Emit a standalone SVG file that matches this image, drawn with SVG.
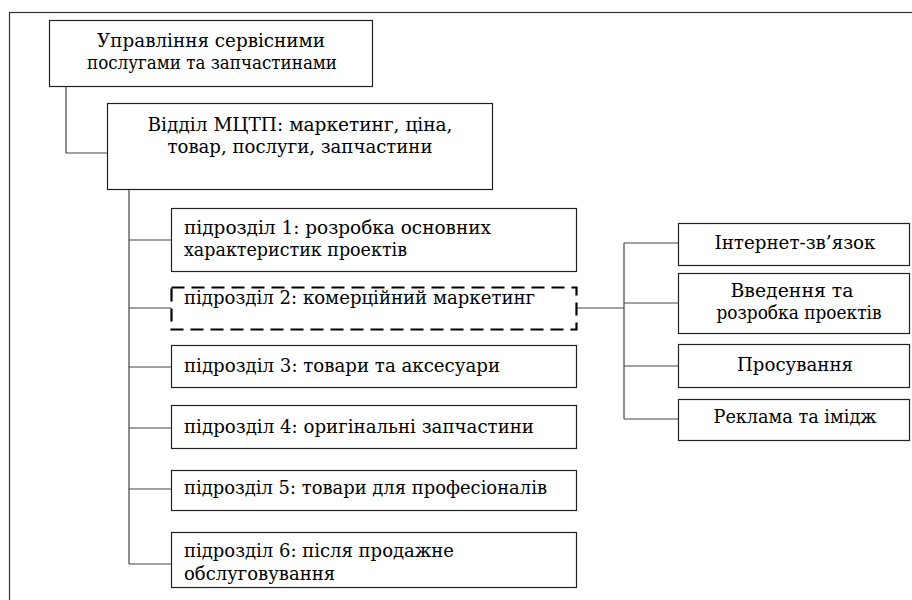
<svg xmlns="http://www.w3.org/2000/svg" width="912" height="600" viewBox="0 0 912 600">
<style>
.box{fill:#fff;stroke:#222;stroke-width:1.2}
.dash{fill:#fff;stroke:#000;stroke-width:2.2;stroke-dasharray:13 7}
.ln{fill:none;stroke:#444;stroke-width:1.2}
.t{font-family:'DejaVu Serif','Liberation Serif',serif;font-size:18px;fill:#000}
.c{text-anchor:middle}
</style>
<rect x="0" y="0" width="912" height="600" fill="#fff"/>
<rect x="9.5" y="12.5" width="920" height="620" fill="none" stroke="#333" stroke-width="1.2"/>
<g id="connectors">
<polyline class="ln" points="66,86 66,153 107,153"/>
<line class="ln" x1="129" y1="189" x2="129" y2="564"/>
<line class="ln" x1="129" y1="240" x2="171" y2="240"/>
<line class="ln" x1="129" y1="308" x2="171" y2="308"/>
<line class="ln" x1="129" y1="367" x2="171" y2="367"/>
<line class="ln" x1="129" y1="428" x2="171" y2="428"/>
<line class="ln" x1="129" y1="489" x2="171" y2="489"/>
<line class="ln" x1="129" y1="564" x2="171" y2="564"/>
<line class="ln" x1="577" y1="308" x2="624" y2="308"/>
<line class="ln" x1="624" y1="243" x2="624" y2="419"/>
<line class="ln" x1="624" y1="243" x2="678" y2="243"/>
<line class="ln" x1="624" y1="303" x2="678" y2="303"/>
<line class="ln" x1="624" y1="366" x2="678" y2="366"/>
<line class="ln" x1="624" y1="419" x2="678" y2="419"/>
</g>
<g id="n-top">
<rect class="box" x="49.5" y="20.5" width="323" height="66"/>
<text class="t c" x="211" y="47" textLength="228" lengthAdjust="spacingAndGlyphs">Управління сервісними</text>
<text class="t c" x="212" y="69" textLength="250" lengthAdjust="spacingAndGlyphs">послугами та запчастинами</text>
</g>
<g id="n-dept">
<rect class="box" x="107.5" y="103.5" width="385" height="86"/>
<text class="t c" x="300" y="131" textLength="305" lengthAdjust="spacingAndGlyphs">Відділ МЦТП: маркетинг, ціна,</text>
<text class="t c" x="300" y="153" textLength="265" lengthAdjust="spacingAndGlyphs">товар, послуги, запчастини</text>
</g>
<g id="n-s1">
<rect class="box" x="171.5" y="208.5" width="405" height="63"/>
<text class="t" x="184" y="234" textLength="307" lengthAdjust="spacingAndGlyphs">підрозділ 1: розробка основних</text>
<text class="t" x="184" y="256" textLength="223" lengthAdjust="spacingAndGlyphs">характеристик проектів</text>
</g>
<g id="n-s2">
<rect class="dash" x="171.5" y="287.5" width="405" height="42"/>
<text class="t" x="184" y="304" textLength="351" lengthAdjust="spacingAndGlyphs">підрозділ 2: комерційний маркетинг</text>
</g>
<g id="n-s3">
<rect class="box" x="171.5" y="345.5" width="405" height="42"/>
<text class="t" x="184" y="372" textLength="316" lengthAdjust="spacingAndGlyphs">підрозділ 3: товари та аксесуари</text>
</g>
<g id="n-s4">
<rect class="box" x="171.5" y="405.5" width="405" height="43"/>
<text class="t" x="184" y="433" textLength="350" lengthAdjust="spacingAndGlyphs">підрозділ 4: оригінальні запчастини</text>
</g>
<g id="n-s5">
<rect class="box" x="171.5" y="470.5" width="405" height="40"/>
<text class="t" x="184" y="494" textLength="363" lengthAdjust="spacingAndGlyphs">підрозділ 5: товари для професіоналів</text>
</g>
<g id="n-s6">
<rect class="box" x="171.5" y="532.5" width="405" height="55"/>
<text class="t" x="184" y="557" textLength="270" lengthAdjust="spacingAndGlyphs">підрозділ 6: після продажне</text>
<text class="t" x="184" y="580" textLength="151" lengthAdjust="spacingAndGlyphs">обслуговування</text>
</g>
<g id="n-r1">
<rect class="box" x="678.5" y="223.5" width="231" height="42"/>
<text class="t c" x="795" y="249" textLength="161" lengthAdjust="spacingAndGlyphs">Інтернет-зв’язок</text>
</g>
<g id="n-r2">
<rect class="box" x="678.5" y="273.5" width="231" height="60"/>
<text class="t c" x="792" y="297" textLength="123" lengthAdjust="spacingAndGlyphs">Введення та</text>
<text class="t c" x="799" y="319" textLength="165" lengthAdjust="spacingAndGlyphs">розробка проектів</text>
</g>
<g id="n-r3">
<rect class="box" x="678.5" y="344.5" width="231" height="43"/>
<text class="t c" x="795" y="371" textLength="116" lengthAdjust="spacingAndGlyphs">Просування</text>
</g>
<g id="n-r4">
<rect class="box" x="678.5" y="399.5" width="231" height="41"/>
<text class="t c" x="795" y="423" textLength="163" lengthAdjust="spacingAndGlyphs">Реклама та імідж</text>
</g>
</svg>
